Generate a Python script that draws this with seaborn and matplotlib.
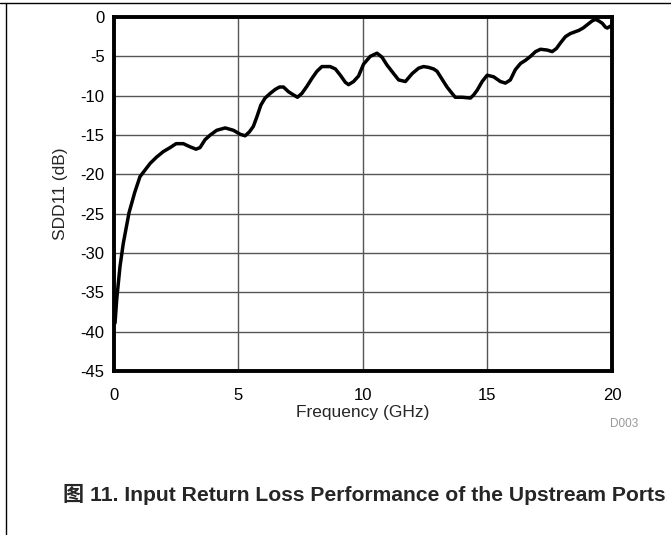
import matplotlib
matplotlib.use("Agg")
import matplotlib.pyplot as plt
import seaborn as sns
import pandas as pd
from matplotlib.lines import Line2D

# SDD11
freq_ghz = [0.06, 0.13, 0.26, 0.39, 0.62, 0.85, 1.06, 1.47, 1.73, 2.0, 2.27, 2.51,
            2.80, 3.07, 3.31, 3.47, 3.67, 3.88, 4.14, 4.48, 4.81, 5.08, 5.28, 5.45,
            5.61, 5.75, 5.91, 6.08, 6.29, 6.49, 6.66, 6.82, 7.02, 7.22, 7.38, 7.56,
            7.76, 7.96, 8.16, 8.36, 8.69, 8.90, 9.10, 9.30, 9.43, 9.63, 9.83, 10.03,
            10.30, 10.57, 10.77, 10.97, 11.24, 11.44, 11.71, 11.98, 12.24, 12.44,
            12.64, 12.84, 12.98, 13.18, 13.38, 13.58, 13.71, 13.98, 14.32, 14.45,
            14.59, 14.79, 14.99, 15.25, 15.52, 15.72, 15.92, 16.12, 16.33, 16.53,
            16.73, 16.93, 17.13, 17.40, 17.60, 17.77, 17.93, 18.13, 18.33, 18.67,
            18.84, 19.00, 19.20, 19.34, 19.47, 19.61, 19.74, 19.81, 19.97]
sdd11_db = [-38.9, -35.8, -31.7, -28.8, -24.9, -22.3, -20.3, -18.6, -17.8, -17.1,
            -16.6, -16.1, -16.1, -16.5, -16.8, -16.6, -15.6, -15.0, -14.4, -14.1,
            -14.4, -14.9, -15.1, -14.6, -13.9, -12.7, -11.2, -10.3, -9.7, -9.2,
            -8.9, -8.9, -9.5, -9.9, -10.2, -9.7, -8.8, -7.8, -6.9, -6.3, -6.3,
            -6.6, -7.4, -8.3, -8.6, -8.2, -7.5, -6.0, -5.0, -4.6, -5.1, -6.1,
            -7.2, -8.0, -8.2, -7.2, -6.5, -6.3, -6.4, -6.6, -6.9, -7.9, -8.9,
            -9.7, -10.2, -10.2, -10.3, -9.9, -9.3, -8.2, -7.4, -7.6, -8.2, -8.4,
            -8.0, -6.7, -5.9, -5.5, -5.0, -4.4, -4.1, -4.2, -4.4, -4.0, -3.3,
            -2.5, -2.1, -1.7, -1.4, -1.0, -0.5, -0.3, -0.5, -0.8, -1.3, -1.4, -1.1]

x_ticks = [0, 5, 10, 15, 20]
y_ticks = [0, -5, -10, -15, -20, -25, -30, -35, -40, -45]

df = pd.DataFrame({"Frequency": freq_ghz, "SDD11": sdd11_db})

sns.set_style("white")
plt.rcParams['font.family'] = ['Liberation Sans', 'Noto Sans CJK SC', 'DejaVu Sans']
plt.rcParams['axes.unicode_minus'] = False

fig = plt.figure(figsize=(6.71, 5.35), dpi=100)
ax = fig.add_axes([0.1692, 0.3065, 0.7429, 0.6617])

sns.lineplot(data=df, x="Frequency", y="SDD11", color="black", linewidth=2.5, ax=ax)

ax.set_xlim(0, 20)
ax.set_ylim(-45, 0)
ax.set_xticks(x_ticks)
ax.set_yticks(y_ticks)
ax.grid(True, color="#555555", linewidth=1)
ax.tick_params(length=0, labelsize=12, colors="black")
ax.tick_params(axis="x", pad=12)
ax.tick_params(axis="y", pad=6.5)
for s in ax.spines.values():
    s.set_visible(True)
    s.set_color("black")
    s.set_linewidth(2.8)

ax.set_xlabel("Frequency (GHz)", fontsize=12.5, labelpad=2)
ax.set_ylabel("SDD11 (dB)", fontsize=12.5, labelpad=9)

fig.text(0.951, 0.208, "D003", color="#999999", fontsize=8.5, ha="right", va="center")
fig.text(0.094, 0.075, "图 11. Input Return Loss Performance of the Upstream Ports",
         fontsize=15.2, fontweight="bold", ha="left", va="center")

# page border lines
fig.add_artist(Line2D([0, 1], [0.994, 0.994], color="black", linewidth=1))
fig.add_artist(Line2D([0.009, 0.009], [0, 0.994], color="black", linewidth=1))

fig.savefig("out.png", dpi=100)
